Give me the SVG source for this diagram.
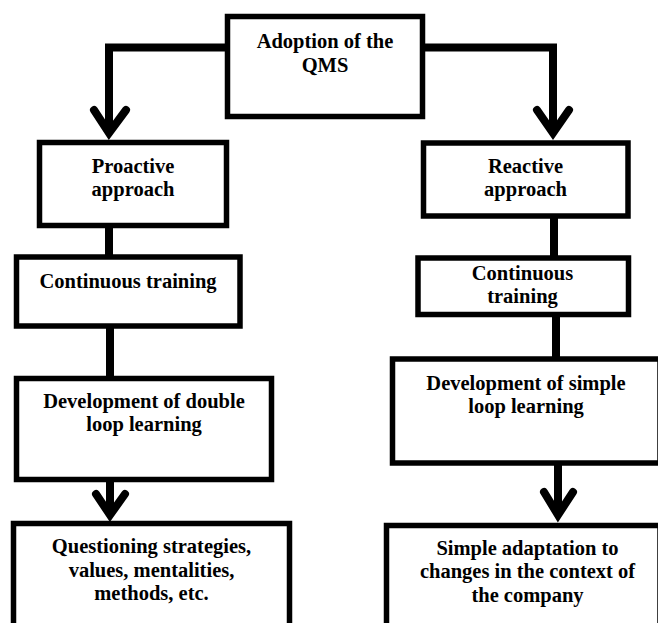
<svg xmlns="http://www.w3.org/2000/svg" width="658" height="623" viewBox="0 0 658 623">
<style>
.box{fill:#fff;stroke:#000;stroke-width:5.5}
.t{font-family:"Liberation Serif","Times New Roman",serif;font-weight:bold;font-size:20.5px;fill:#000;text-anchor:middle}
.c{fill:none;stroke:#000;stroke-width:8;stroke-linejoin:miter}
.a{fill:none;stroke:#000;stroke-width:8;stroke-linejoin:miter;stroke-linecap:round}
</style>
<rect width="658" height="623" fill="#fff"/>
<g id="connectors">
<path class="c" d="M227,47.5 H109 V134"/>
<path class="a" d="M94,110 L109,133 L126,110"/>
<path class="c" d="M422,47.5 H553 V134"/>
<path class="a" d="M537,110 L553,133 L569,110"/>
<path class="c" d="M109,225 V258"/>
<path class="c" d="M110,326 V379"/>
<path class="c" d="M110,479 V513"/>
<path class="a" d="M96,494 L110,515 L125,494"/>
<path class="c" d="M554,216 V259"/>
<path class="c" d="M556,314 V360"/>
<path class="c" d="M558,463 V515"/>
<path class="a" d="M544,492 L558,515 L573,492"/>
</g>
<g id="n-adoption">
<rect class="box" x="227.5" y="16.5" width="195" height="100"/>
<text class="t" x="325" y="48">Adoption of the</text>
<text class="t" x="325" y="71.5">QMS</text>
</g>
<g id="n-proactive">
<rect class="box" x="39.5" y="142.5" width="187" height="83"/>
<text class="t" x="133" y="173">Proactive</text>
<text class="t" x="133" y="196">approach</text>
</g>
<g id="n-training-left">
<rect class="box" x="16.5" y="257" width="223.5" height="69"/>
<text class="t" x="128" y="288">Continuous training</text>
</g>
<g id="n-double-loop">
<rect class="box" x="16.5" y="378.5" width="255" height="101"/>
<text class="t" x="144" y="408">Development of double</text>
<text class="t" x="144" y="431">loop learning</text>
</g>
<g id="n-questioning">
<rect class="box" x="13.5" y="523.5" width="276" height="120"/>
<text class="t" x="151.5" y="553">Questioning strategies,</text>
<text class="t" x="151.5" y="577">values, mentalities,</text>
<text class="t" x="151.5" y="600">methods, etc.</text>
</g>
<g id="n-reactive">
<rect class="box" x="423.5" y="143" width="204.5" height="73"/>
<text class="t" x="525.5" y="173">Reactive</text>
<text class="t" x="525.5" y="196">approach</text>
</g>
<g id="n-training-right">
<rect class="box" x="418" y="258" width="210.5" height="56.5"/>
<text class="t" x="522.5" y="280">Continuous</text>
<text class="t" x="522.5" y="303">training</text>
</g>
<g id="n-simple-loop">
<rect class="box" x="392.5" y="359" width="267.5" height="104"/>
<text class="t" x="526" y="390">Development of simple</text>
<text class="t" x="526" y="413">loop learning</text>
</g>
<g id="n-adaptation">
<rect class="box" x="386.5" y="525.5" width="273.5" height="120"/>
<text class="t" x="527.5" y="555">Simple adaptation to</text>
<text class="t" x="527.5" y="578">changes in the context of</text>
<text class="t" x="527.5" y="602">the company</text>
</g>
</svg>
